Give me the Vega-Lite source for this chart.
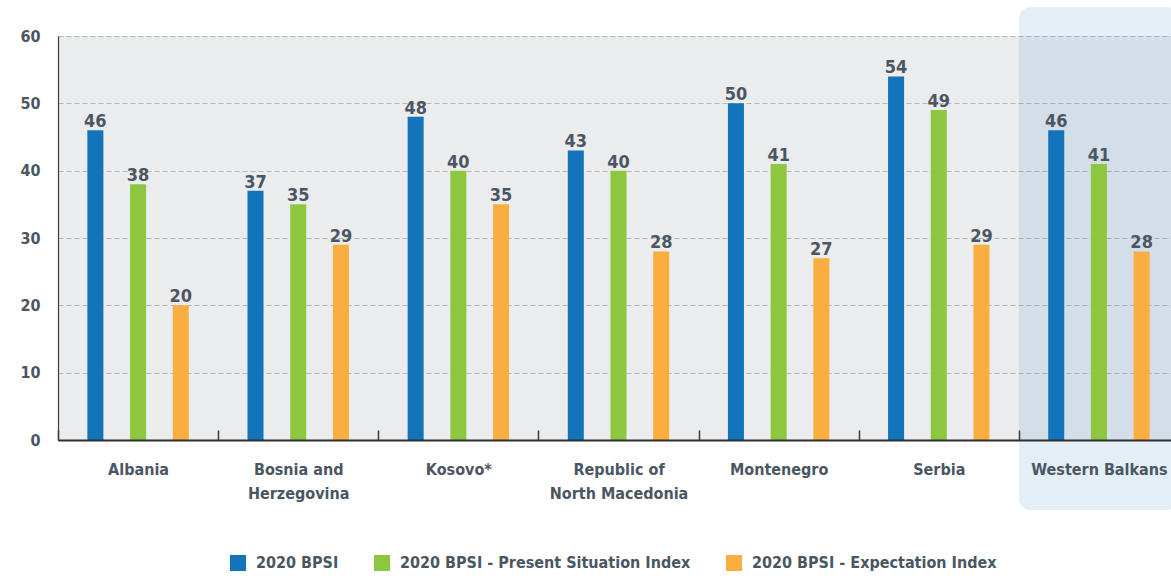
{
  "$schema": "https://vega.github.io/schema/vega-lite/v6.json",
  "width": 1113,
  "height": 404,
  "autosize": {"type": "none"},
  "padding": {"left": 58, "top": 36, "right": 0, "bottom": 136},
  "background": "white",
  "config": {
    "font": "Liberation Sans Narrow, DejaVu Sans Condensed, sans-serif",
    "view": {"fill": "#ebecee", "stroke": null}
  },
  "data": {
    "values": [
      {"country": "Albania", "series": "2020 BPSI", "value": 46},
      {"country": "Albania", "series": "2020 BPSI - Present Situation Index", "value": 38},
      {"country": "Albania", "series": "2020 BPSI - Expectation Index", "value": 20},
      {"country": "Bosnia and Herzegovina", "series": "2020 BPSI", "value": 37},
      {"country": "Bosnia and Herzegovina", "series": "2020 BPSI - Present Situation Index", "value": 35},
      {"country": "Bosnia and Herzegovina", "series": "2020 BPSI - Expectation Index", "value": 29},
      {"country": "Kosovo*", "series": "2020 BPSI", "value": 48},
      {"country": "Kosovo*", "series": "2020 BPSI - Present Situation Index", "value": 40},
      {"country": "Kosovo*", "series": "2020 BPSI - Expectation Index", "value": 35},
      {"country": "Republic of North Macedonia", "series": "2020 BPSI", "value": 43},
      {"country": "Republic of North Macedonia", "series": "2020 BPSI - Present Situation Index", "value": 40},
      {"country": "Republic of North Macedonia", "series": "2020 BPSI - Expectation Index", "value": 28},
      {"country": "Montenegro", "series": "2020 BPSI", "value": 50},
      {"country": "Montenegro", "series": "2020 BPSI - Present Situation Index", "value": 41},
      {"country": "Montenegro", "series": "2020 BPSI - Expectation Index", "value": 27},
      {"country": "Serbia", "series": "2020 BPSI", "value": 54},
      {"country": "Serbia", "series": "2020 BPSI - Present Situation Index", "value": 49},
      {"country": "Serbia", "series": "2020 BPSI - Expectation Index", "value": 29},
      {"country": "Western Balkans", "series": "2020 BPSI", "value": 46},
      {"country": "Western Balkans", "series": "2020 BPSI - Present Situation Index", "value": 41},
      {"country": "Western Balkans", "series": "2020 BPSI - Expectation Index", "value": 28}
    ]
  },
  "layer": [
    {
      "data": {"values": [{"region": "Western Balkans"}]},
      "mark": {"type": "rect", "fill": "#69a0cd", "fillOpacity": 0.18, "strokeWidth": 0, "cornerRadius": 12},
      "encoding": {
        "x": {"field": "region", "type": "nominal"},
        "y": {"datum": 64.3, "type": "quantitative"},
        "y2": {"datum": -10.4}
      }
    },
    {
      "mark": {"type": "bar"},
      "encoding": {
        "x": {
          "field": "country",
          "type": "nominal",
          "scale": {
            "domain": ["Albania", "Bosnia and Herzegovina", "Kosovo*", "Republic of North Macedonia", "Montenegro", "Serbia", "Western Balkans"],
            "range": [0, 1121],
            "paddingInner": 0,
            "paddingOuter": 0
          },
          "axis": {
            "title": null,
            "labelAngle": 0,
            "labelAlign": "center",
            "grid": false,
            "tickBand": "extent",
            "ticks": true,
            "tickSize": -10,
            "tickColor": "#3c3c3c",
            "tickWidth": 1.5,
            "domainColor": "#2f2f2f",
            "domainWidth": 2,
            "labelFontSize": 16,
            "labelFontWeight": "bold",
            "labelColor": "#4b5663",
            "labelPadding": 39,
            "labelLineHeight": 24,
            "labelLimit": 300,
            "zindex": 1,
            "labelExpr": "datum.value == 'Bosnia and Herzegovina' ? ['Bosnia and', 'Herzegovina'] : datum.value == 'Republic of North Macedonia' ? ['Republic of', 'North Macedonia'] : datum.label"
          }
        },
        "xOffset": {
          "field": "series",
          "type": "nominal",
          "scale": {
            "domain": ["2020 BPSI", "2020 BPSI - Present Situation Index", "2020 BPSI - Expectation Index"],
            "paddingInner": 0.625,
            "paddingOuter": 0.6875
          }
        },
        "y": {
          "field": "value",
          "type": "quantitative",
          "scale": {"domain": [0, 60], "nice": false},
          "axis": {
            "title": null,
            "values": [0, 10, 20, 30, 40, 50, 60],
            "grid": true,
            "gridDash": [5, 3],
            "gridColor": "#b3b6ba",
            "gridWidth": 1,
            "domain": true,
            "domainColor": "#3c3c3c",
            "domainWidth": 1.2,
            "ticks": false,
            "labelPadding": 18,
            "labelFontSize": 16,
            "labelFontWeight": "bold",
            "labelColor": "#4b5663"
          }
        },
        "color": {
          "field": "series",
          "type": "nominal",
          "scale": {
            "domain": ["2020 BPSI", "2020 BPSI - Present Situation Index", "2020 BPSI - Expectation Index"],
            "range": ["#1373bb", "#8dc63f", "#fbae40"]
          },
          "legend": {
            "title": null,
            "orient": "none",
            "legendX": 172,
            "legendY": 519,
            "direction": "horizontal",
            "symbolType": "square",
            "symbolSize": 256,
            "symbolStrokeWidth": 0,
            "symbolOpacity": 1,
            "labelFontSize": 16,
            "labelFontWeight": "bold",
            "labelColor": "#4b5663",
            "labelOffset": 10,
            "columnPadding": 35,
            "labelLimit": 400
          }
        }
      }
    },
    {
      "mark": {"type": "text", "baseline": "alphabetic", "dy": -3, "fontSize": 18, "fontWeight": "bold", "color": "#4b5663"},
      "encoding": {
        "x": {"field": "country", "type": "nominal"},
        "xOffset": {"field": "series", "type": "nominal"},
        "y": {"field": "value", "type": "quantitative"},
        "text": {"field": "value", "type": "quantitative"}
      }
    }
  ]
}
